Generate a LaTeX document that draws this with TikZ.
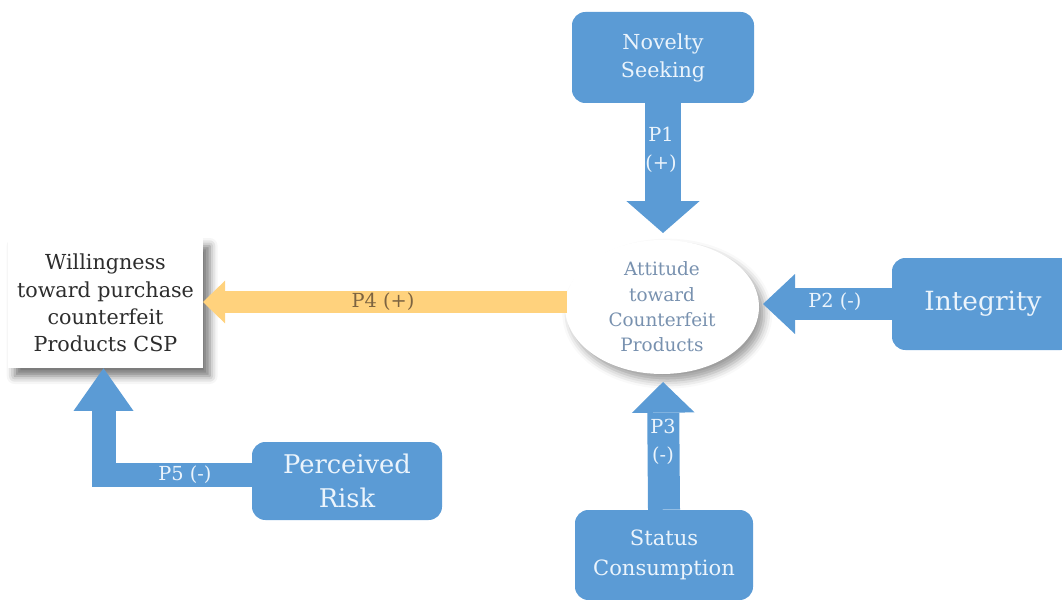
\documentclass[tikz,border=0pt]{standalone}
\usepackage{fontspec}
\setmainfont{DejaVu Serif}
\usetikzlibrary{shapes.geometric,shadows.blur,arrows.meta,calc}
\definecolor{boxblue}{RGB}{91,155,213}
\definecolor{boxtext}{RGB}{235,244,252}
\definecolor{arrowyellow}{RGB}{255,210,125}
\definecolor{ptext}{RGB}{125,100,65}
\definecolor{atttext}{RGB}{120,145,175}
\definecolor{wiltext}{RGB}{45,45,45}
\begin{document}
\begin{tikzpicture}[x=0.75pt,y=-0.75pt,
  bluebox/.style={rectangle, rounded corners=10pt, fill=boxblue, text=boxtext, align=center, inner sep=0pt},
  blockarrow/.style={draw=boxblue, line cap=butt, line join=miter},
  plabel/.style={text=boxtext, align=center, inner sep=0pt, font=\fontsize{14.5}{21}\selectfont},
]
\useasboundingbox (0,0) rectangle (1062,599);

% nodes
\node[bluebox, minimum width=136.5pt, minimum height=68.25pt, font=\fontsize{15.5}{21}\selectfont] (ns) at (663,57.5) {Novelty\\Seeking};
\node[bluebox, minimum width=136.5pt, minimum height=69pt, font=\fontsize{19.8}{25}\selectfont] (integ) at (983,304) {Integrity};
\node[bluebox, minimum width=133.5pt, minimum height=67.5pt, font=\fontsize{15.8}{22}\selectfont] (sc) at (664,555) {Status\\Consumption};
\node[bluebox, minimum width=142.5pt, minimum height=58.5pt, font=\fontsize{19.3}{25}\selectfont] (pr) at (347,481) {Perceived\\Risk};
\node[rectangle, fill=white, blur shadow={shadow xshift=5pt, shadow yshift=-6pt, shadow blur radius=6pt, shadow opacity=55},
      minimum width=146.25pt, minimum height=97.5pt, align=center, inner sep=0pt, text=wiltext,
      font=\fontsize{15.5}{20.5}\selectfont] (wil) at (105.5,303) {Willingness\\toward purchase\\counterfeit\\Products CSP};
\node[ellipse, fill=white, blur shadow={shadow xshift=4pt, shadow yshift=-5pt, shadow blur radius=6pt, shadow opacity=40},
      minimum width=145.5pt, minimum height=100.5pt, align=center, inner sep=0pt, text=atttext,
      font=\fontsize{13.8}{19}\selectfont] (att) at (662,307) {Attitude\\toward\\Counterfeit\\Products};

% tip coordinates
\coordinate (p1tip) at (663,233);
\coordinate (p2tip) at (763,304);
\coordinate (p3tip) at (663,382);
\coordinate (p4start) at (567,302);
\coordinate (p4tip) at (203,302);
\coordinate (p5corner) at (103.5,475);

% connectors
\draw[blockarrow, line width=27pt, -{Triangle[width=55pt,length=24pt,line width=0pt]}] (ns.south) -- (p1tip);
\draw[blockarrow, line width=24pt, -{Triangle[width=45pt,length=24pt,line width=0pt]}] (integ.west) -- (p2tip);
\draw[blockarrow, line width=24pt, -{Triangle[width=47pt,length=23pt,line width=0pt]}] (sc.north) -- (p3tip);
\draw[draw=arrowyellow, line width=16.5pt, line cap=butt, -{Triangle[width=32pt,length=16.5pt,line width=0pt]}] (p4start) -- (p4tip);
\draw[blockarrow, line width=18pt, -{Triangle[width=45pt,length=32pt,line width=0pt]}] (p5corner -| pr.west) -- (p5corner) -- (p5corner |- wil.south);

% labels
\node[plabel] (l1) at (661,150) {P1\\(+)};
\node[plabel] (l2) at (835,302) {P2 (-)};
\node[plabel] (l3) at (663,442) {P3\\(-)};
\node[plabel, text=ptext] (l4) at (383,302) {P4 (+)};
\node[plabel] (l5) at (185,475) {P5 (-)};
\end{tikzpicture}
\end{document}
